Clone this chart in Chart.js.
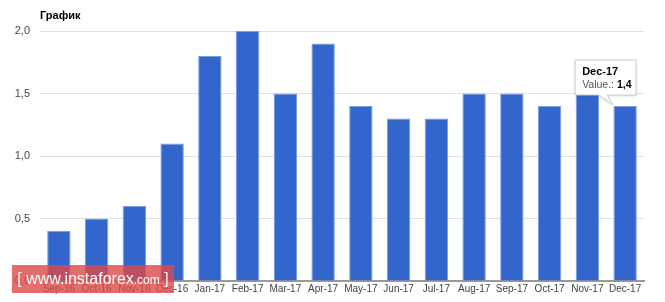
<!DOCTYPE html>
<html lang="ru">
  <head>
    <meta charset="UTF-8" />
    <title>График</title>
    <script src="https://cdn.jsdelivr.net/npm/chart.js"></script>
    <style>
      html, body { margin: 0; padding: 0; background: #fff; }
      .wrap { position: relative; width: 665px; height: 302px; }
      .watermark {
        position: absolute; left: 12px; top: 265px; width: 162px; height: 28px;
        background: rgba(221, 72, 72, 0.8); color: #fff;
        font-family: "Liberation Sans", Arial, sans-serif; font-size: 16px;
        line-height: 28px; text-align: center; white-space: nowrap;
      }
      .watermark small { font-size: 12px; }
      .watermark .br { color: #eee; font-weight: 300; }
    </style>
  </head>
  <body>
    <div class="wrap">
      <canvas id="chart" width="665" height="302"></canvas>
      <div class="watermark"><span class="br">[</span> www.instaforex<small>.com</small> <span class="br">]</span></div>
    </div>
    <script>
      // данные
      const months = ["Sep-16", "Oct-16", "Nov-16", "Dec-16", "Jan-17", "Feb-17", "Mar-17", "Apr-17",
        "May-17", "Jun-17", "Jul-17", "Aug-17", "Sep-17", "Oct-17", "Nov-17", "Dec-17"];
      const values = [0.4, 0.5, 0.6, 1.1, 1.8, 2.0, 1.5, 1.9, 1.4, 1.3, 1.3, 1.5, 1.5, 1.4, 1.5, 1.4];
      const chartTitle = "График";
      const seriesName = "Value.";
      const hoverIndex = 15;

      const fmt = (v) => v.toFixed(1).replace(".", ",");

      // заголовок и всплывающая подсказка
      const extras = {
        id: "extras",
        afterDraw(chart) {
          const ctx = chart.ctx;
          ctx.save();
          ctx.font = "bold 11px 'Liberation Sans', Arial";
          ctx.fillStyle = "#000";
          ctx.textBaseline = "middle";
          ctx.fillText(chartTitle, chart.chartArea.left, 16);

          const bar = chart.getDatasetMeta(0).data[hoverIndex];
          const bx = bar.x, by = bar.y;
          const l = bx - 50, r = bx + 11, t = by - 46, b = by - 11;
          ctx.shadowColor = "rgba(0,0,0,0.15)";
          ctx.shadowBlur = 3;
          ctx.shadowOffsetY = 1;
          ctx.beginPath();
          ctx.moveTo(l, t);
          ctx.lineTo(r, t);
          ctx.lineTo(r, b);
          ctx.lineTo(bx - 18, b);
          ctx.lineTo(bx - 12, by - 1);
          ctx.lineTo(bx - 26, b);
          ctx.lineTo(l, b);
          ctx.closePath();
          ctx.fillStyle = "#fff";
          ctx.fill();
          ctx.shadowColor = "transparent";
          ctx.strokeStyle = "#ccc";
          ctx.lineWidth = 1;
          ctx.stroke();

          ctx.textAlign = "left";
          ctx.fillStyle = "#000";
          ctx.font = "bold 11px 'Liberation Sans', Arial";
          ctx.fillText(months[hoverIndex], l + 7, t + 12);
          ctx.font = "10.5px 'Liberation Sans', Arial";
          ctx.fillStyle = "#555";
          const lab = seriesName + ": ";
          ctx.fillText(lab, l + 7, t + 25);
          const w = ctx.measureText(lab).width;
          ctx.font = "bold 10.5px 'Liberation Sans', Arial";
          ctx.fillStyle = "#000";
          ctx.fillText(fmt(values[hoverIndex]), l + 7 + w, t + 25);
          ctx.restore();
        },
      };

      new Chart(document.getElementById("chart"), {
        type: "bar",
        data: {
          labels: months,
          datasets: [{
            label: seriesName,
            data: values,
            backgroundColor: "#3366cc",
            borderColor: "#7a9be0",
            borderWidth: 1,
            categoryPercentage: 1,
            barPercentage: 0.62,
          }],
        },
        options: {
          responsive: false,
          animation: false,
          layout: { padding: { top: 31, right: 21, left: 0, bottom: 0 } },
          plugins: { legend: { display: false }, tooltip: { enabled: false }, title: { display: false } },
          scales: {
            x: {
              grid: { display: false, drawTicks: false },
              border: { color: "#999", width: 2 },
              ticks: { color: "#444", font: { family: "'Liberation Sans', Arial", size: 10 }, padding: 2, maxRotation: 0, autoSkip: false },
              afterFit(axis) { axis.height = 21; },
            },
            y: {
              min: 0,
              max: 2,
              border: { display: false },
              grid: { color: "#e0e0e0", drawTicks: false },
              ticks: {
                stepSize: 0.5,
                color: "#444",
                padding: 10,
                font: { family: "'Liberation Sans', Arial", size: 11 },
                callback: (v) => fmt(v),
              },
              afterFit(axis) { axis.width = 40; },
            },
          },
        },
        plugins: [extras],
      });
    </script>
  </body>
</html>
